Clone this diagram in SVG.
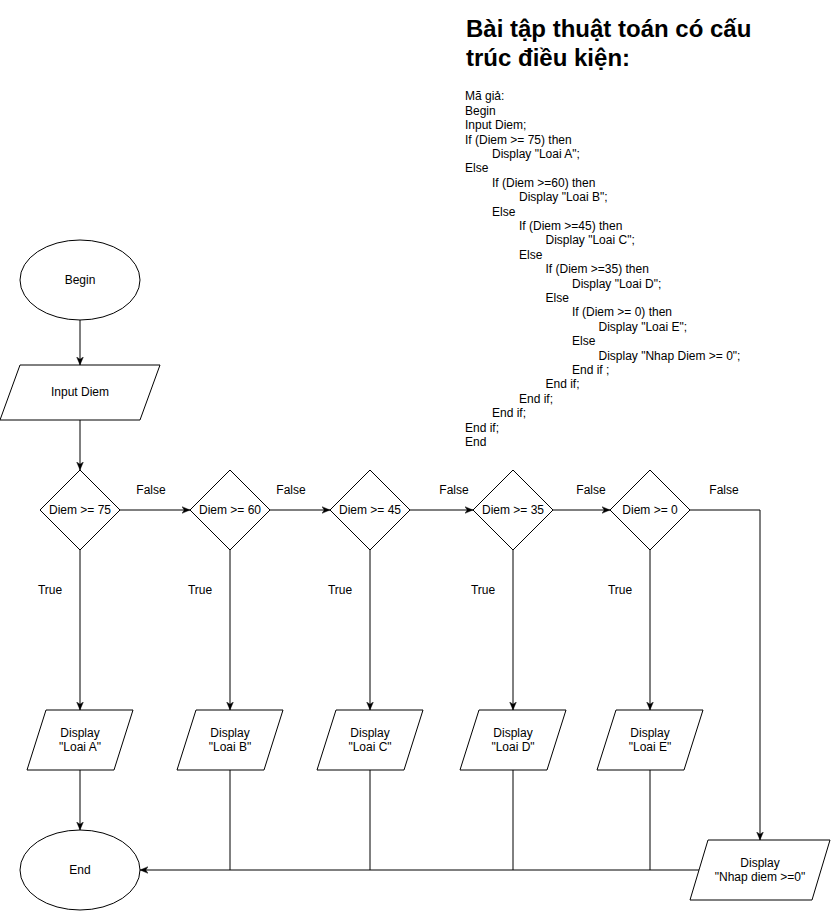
<svg xmlns="http://www.w3.org/2000/svg" width="832" height="911" viewBox="0 0 832 911">
<style>
.s{fill:#fff;stroke:#000;stroke-width:1}
.t{font-family:"Liberation Sans",Arial,sans-serif;font-size:12px;fill:#000;text-anchor:middle}
.c{fill:none;stroke:#000;stroke-width:1}
.p{font-family:"Liberation Sans",Arial,sans-serif;font-size:12px;fill:#000}
.h{font-family:"Liberation Sans",Arial,sans-serif;font-size:24px;font-weight:bold;fill:#000}
</style>
<defs>
<marker id="a" viewBox="0 0 10 10" refX="10" refY="5" markerWidth="8" markerHeight="8" markerUnits="userSpaceOnUse" orient="auto">
<path d="M0,0.8 L10,5 L0,9.2 L2.8,5 z" fill="#000" stroke="#000" stroke-width="0.5"/>
</marker>
</defs>
<rect width="832" height="911" fill="#fff"/>

<g id="title">
<text class="h" x="466" y="37">Bài tập thuật toán có cấu</text>
<text class="h" x="466" y="66">trúc điều kiện:</text>
</g>

<g id="pseudocode">
<text class="p" x="465" y="100.3">Mã giả:</text>
<text class="p" x="465" y="114.7">Begin</text>
<text class="p" x="465" y="129.1">Input Diem;</text>
<text class="p" x="465" y="143.5">If (Diem &gt;= 75) then</text>
<text class="p" x="492" y="157.9">Display "Loai A";</text>
<text class="p" x="465" y="172.3">Else</text>
<text class="p" x="492" y="186.7">If (Diem &gt;=60) then</text>
<text class="p" x="519" y="201.1">Display "Loai B";</text>
<text class="p" x="492" y="215.5">Else</text>
<text class="p" x="519" y="229.9">If (Diem &gt;=45) then</text>
<text class="p" x="545.5" y="244.3">Display "Loai C";</text>
<text class="p" x="519" y="258.7">Else</text>
<text class="p" x="545.5" y="273.1">If (Diem &gt;=35) then</text>
<text class="p" x="572" y="287.5">Display "Loai D";</text>
<text class="p" x="545.5" y="301.9">Else</text>
<text class="p" x="572" y="316.3">If (Diem &gt;= 0) then</text>
<text class="p" x="598.5" y="330.7">Display "Loai E";</text>
<text class="p" x="572" y="345.1">Else</text>
<text class="p" x="598.5" y="359.5">Display "Nhap Diem &gt;= 0";</text>
<text class="p" x="572" y="373.9">End if ;</text>
<text class="p" x="545.5" y="388.3">End if;</text>
<text class="p" x="519" y="402.7">End if;</text>
<text class="p" x="492" y="417.1">End if;</text>
<text class="p" x="465" y="431.5">End if;</text>
<text class="p" x="465" y="445.9">End</text>
</g>

<g id="connectors">
<line class="c" x1="80" y1="320" x2="80" y2="365" marker-end="url(#a)"/>
<line class="c" x1="80" y1="420" x2="80" y2="470" marker-end="url(#a)"/>
<line class="c" x1="120" y1="510" x2="190" y2="510" marker-end="url(#a)"/>
<line class="c" x1="270" y1="510" x2="330" y2="510" marker-end="url(#a)"/>
<line class="c" x1="410" y1="510" x2="473" y2="510" marker-end="url(#a)"/>
<line class="c" x1="553" y1="510" x2="610" y2="510" marker-end="url(#a)"/>
<polyline class="c" points="690,510 760,510 760,840" marker-end="url(#a)"/>
<line class="c" x1="80" y1="550" x2="80" y2="710" marker-end="url(#a)"/>
<line class="c" x1="230" y1="550" x2="230" y2="710" marker-end="url(#a)"/>
<line class="c" x1="370" y1="550" x2="370" y2="710" marker-end="url(#a)"/>
<line class="c" x1="513" y1="550" x2="513" y2="710" marker-end="url(#a)"/>
<line class="c" x1="650" y1="550" x2="650" y2="710" marker-end="url(#a)"/>
<line class="c" x1="80" y1="770" x2="80" y2="830" marker-end="url(#a)"/>
<line class="c" x1="699" y1="870" x2="140" y2="870" marker-end="url(#a)"/>
<line class="c" x1="230" y1="770" x2="230" y2="870"/>
<line class="c" x1="370" y1="770" x2="370" y2="870"/>
<line class="c" x1="513" y1="770" x2="513" y2="870"/>
<line class="c" x1="650" y1="770" x2="650" y2="870"/>
<text class="t" x="151" y="494">False</text>
<text class="t" x="291" y="494">False</text>
<text class="t" x="454" y="494">False</text>
<text class="t" x="591" y="494">False</text>
<text class="t" x="724" y="494">False</text>
<text class="t" x="50" y="594">True</text>
<text class="t" x="200" y="594">True</text>
<text class="t" x="340" y="594">True</text>
<text class="t" x="483" y="594">True</text>
<text class="t" x="620" y="594">True</text>
</g>

<g id="begin">
<ellipse class="s" cx="80" cy="280" rx="60" ry="40"/>
<text class="t" x="80" y="284">Begin</text>
</g>

<g id="input">
<polygon class="s" points="20,365 160,365 140,420 0,420"/>
<text class="t" x="80" y="396">Input Diem</text>
</g>

<g id="d75">
<polygon class="s" points="80,470 120,510 80,550 40,510"/>
<text class="t" x="80" y="514">Diem &gt;= 75</text>
</g>
<g id="d60">
<polygon class="s" points="230,470 270,510 230,550 190,510"/>
<text class="t" x="230" y="514">Diem &gt;= 60</text>
</g>
<g id="d45">
<polygon class="s" points="370,470 410,510 370,550 330,510"/>
<text class="t" x="370" y="514">Diem &gt;= 45</text>
</g>
<g id="d35">
<polygon class="s" points="513,470 553,510 513,550 473,510"/>
<text class="t" x="513" y="514">Diem &gt;= 35</text>
</g>
<g id="d0">
<polygon class="s" points="650,470 690,510 650,550 610,510"/>
<text class="t" x="650" y="514">Diem &gt;= 0</text>
</g>

<g id="dispA">
<polygon class="s" points="46,710 133,710 114,770 27,770"/>
<text class="t" x="80" y="737">Display</text>
<text class="t" x="80" y="751">"Loai A"</text>
</g>
<g id="dispB">
<polygon class="s" points="196,710 283,710 264,770 177,770"/>
<text class="t" x="230" y="737">Display</text>
<text class="t" x="230" y="751">"Loai B"</text>
</g>
<g id="dispC">
<polygon class="s" points="336,710 423,710 404,770 317,770"/>
<text class="t" x="370" y="737">Display</text>
<text class="t" x="370" y="751">"Loai C"</text>
</g>
<g id="dispD">
<polygon class="s" points="479,710 566,710 547,770 460,770"/>
<text class="t" x="513" y="737">Display</text>
<text class="t" x="513" y="751">"Loai D"</text>
</g>
<g id="dispE">
<polygon class="s" points="616,710 703,710 684,770 597,770"/>
<text class="t" x="650" y="737">Display</text>
<text class="t" x="650" y="751">"Loai E"</text>
</g>
<g id="dispN">
<polygon class="s" points="708,840 830,840 812,900 690,900"/>
<text class="t" x="760" y="867">Display</text>
<text class="t" x="760" y="881">"Nhap diem &gt;=0"</text>
</g>

<g id="end">
<ellipse class="s" cx="80" cy="870" rx="60" ry="40"/>
<text class="t" x="80" y="874">End</text>
</g>
</svg>
